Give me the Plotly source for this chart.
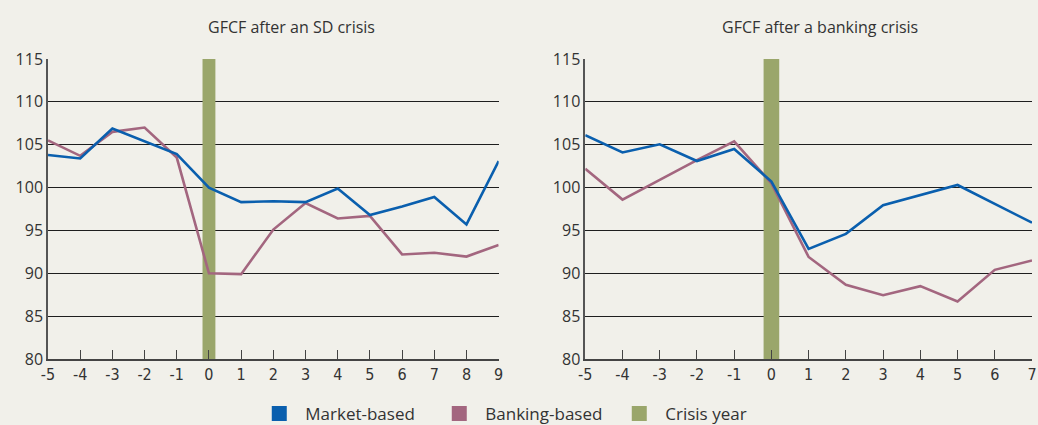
import plotly.graph_objects as go
from plotly.subplots import make_subplots

# ---- data ----
years_sd = [-5, -4, -3, -2, -1, 0, 1, 2, 3, 4, 5, 6, 7, 8, 9]
market_sd = [103.8, 103.4, 106.9, 105.4, 103.9, 100.0, 98.3, 98.4, 98.3, 99.9, 96.8, 97.8, 98.9, 95.7, 103.1]
banking_sd = [105.5, 103.7, 106.5, 107.0, 103.5, 90.0, 89.9, 95.1, 98.2, 96.4, 96.7, 92.2, 92.4, 91.95, 93.3]

years_bank = [-5, -4, -3, -2, -1, 0, 1, 2, 3, 4, 5, 6, 7]
market_bank = [106.1, 104.1, 105.05, 103.1, 104.5, 100.7, 92.85, 94.6, 97.95, 99.1, 100.3, 98.1, 95.9]
banking_bank = [102.2, 98.6, 100.9, 103.2, 105.4, 100.5, 91.9, 88.65, 87.45, 88.5, 86.7, 90.4, 91.5]

crisis_year = [0]
y_min, y_max = 80, 115
y_ticks = [80, 85, 90, 95, 100, 105, 110, 115]

titles = ["GFCF after an SD crisis", "GFCF after a banking crisis"]
series_names = ["Market-based", "Banking-based", "Crisis year"]

# ---- style ----
BLUE = "#0a5fae"
PINK = "#a3667f"
GREEN = "#9aa66b"
BG = "#f1f0ea"
TXT = "#333333"
GRID = "#1e1e1e"

fig = make_subplots(rows=1, cols=2)
fig.update_layout(xaxis=dict(domain=[0, 0.458]), xaxis2=dict(domain=[0.546, 1.0]))

panels = [
    (years_sd, market_sd, banking_sd, 0.4),
    (years_bank, market_bank, banking_bank, 0.42),
]

for i, (yrs, mk, bk, bw) in enumerate(panels, start=1):
    fig.add_trace(go.Bar(x=crisis_year, y=[y_max - y_min], base=y_min, width=bw,
                         marker=dict(color=GREEN, line=dict(width=0)),
                         showlegend=False, hoverinfo="skip"), row=1, col=i)
    fig.add_trace(go.Scatter(x=yrs, y=bk, mode="lines", line=dict(color=PINK, width=2.6),
                             showlegend=False), row=1, col=i)
    fig.add_trace(go.Scatter(x=yrs, y=mk, mode="lines", line=dict(color=BLUE, width=2.6),
                             showlegend=False), row=1, col=i)
    fig.update_xaxes(range=[yrs[0], yrs[-1]], tickvals=yrs,
                     ticktext=[str(v) for v in yrs],
                     ticks="inside", ticklen=9, tickwidth=1.2, tickcolor="#444",
                     showline=True, linecolor="#444", linewidth=1.5,
                     showgrid=False, zeroline=False, ticklabeloverflow="allow",
                     tickfont=dict(family="Liberation Sans Narrow, DejaVu Sans Condensed, Open Sans",
                                   size=16, color=TXT),
                     row=1, col=i)
    fig.update_yaxes(range=[y_min, y_max], tickvals=y_ticks,
                     showline=True, linecolor="#555", linewidth=1.5,
                     showgrid=True, gridcolor=GRID, gridwidth=1,
                     zeroline=False, ticks="",
                     tickfont=dict(family="Open Sans", size=16, color=TXT),
                     row=1, col=i)

# legend entries
for name, col in zip(series_names, [BLUE, PINK, GREEN]):
    fig.add_trace(go.Scatter(x=[None], y=[None], mode="markers", name=name,
                             marker=dict(symbol="square", size=15, color=col)),
                  row=1, col=1)

fig.update_layout(
    width=1038, height=425,
    margin=dict(l=48, r=6, t=59, b=66, autoexpand=False),
    paper_bgcolor=BG, plot_bgcolor=BG,
    barmode="overlay",
    legend=dict(orientation="h", x=0.483, xanchor="center",
                yref="container", y=0.026, yanchor="middle",
                font=dict(family="Open Sans", size=17, color=TXT),
                bgcolor="rgba(0,0,0,0)", itemwidth=42,
                entrywidth=123, entrywidthmode="pixels"),
)

fig.add_annotation(text=titles[0], x=0.247, y=1.107, xref="paper", yref="paper",
                   xanchor="center", yanchor="middle",
                   showarrow=False, font=dict(family="Open Sans", size=16, color=TXT))
fig.add_annotation(text=titles[1], x=0.785, y=1.107, xref="paper", yref="paper",
                   xanchor="center", yanchor="middle",
                   showarrow=False, font=dict(family="Open Sans", size=16, color=TXT))

fig.write_html("out.html", config={"displayModeBar": False},
               post_script="document.body.style.margin='0';")
